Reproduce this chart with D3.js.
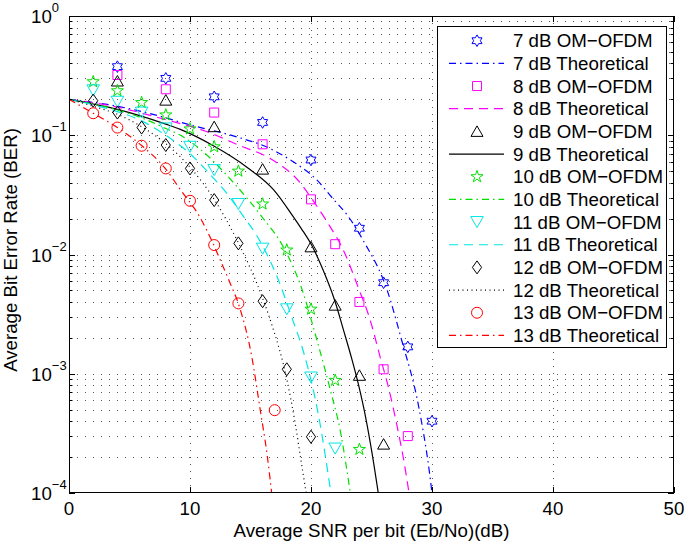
<!DOCTYPE html>
<html><head><meta charset="utf-8">
<script src="https://cdn.jsdelivr.net/npm/d3@7"></script>
<style>body{margin:0;background:#fff}svg{display:block}text{font-family:"Liberation Sans",Arial,Helvetica,sans-serif;fill:#000}</style>
</head><body><svg id="c" width="685" height="542"></svg>
<script>
// ---- data ----
const xTicks = [0, 10, 20, 30, 40, 50];
const yTickExps = [0, -1, -2, -3, -4];
const xLabel = "Average SNR per bit (Eb/No)(dB)";
const yLabel = "Average Bit Error Rate (BER)";
const legendLabels = ["7 dB OM\u2212OFDM","7 dB Theoretical","8 dB OM\u2212OFDM","8 dB Theoretical","9 dB OM\u2212OFDM","9 dB Theoretical","10 dB OM\u2212OFDM","10 dB Theoretical","11 dB OM\u2212OFDM","11 dB Theoretical","12 dB OM\u2212OFDM","12 dB Theoretical","13 dB OM\u2212OFDM","13 dB Theoretical"];

const sim7x = [4, 8, 12, 16, 20, 24, 26, 28, 30];
const sim7y = [0.376, 0.30, 0.21, 0.128, 0.062, 0.0166, 0.0058, 0.00168, 0.0004];
const sim8x = [4, 8, 12, 16, 20, 22, 24, 26, 28];
const sim8y = [0.32, 0.243, 0.155, 0.084, 0.029, 0.0122, 0.004, 0.00109, 0.0003];
const sim9x = [4, 8, 12, 16, 20, 22, 24, 26];
const sim9y = [0.285, 0.197, 0.118, 0.052, 0.0116, 0.00376, 0.00097, 0.000257];
const sim10x = [2, 4, 6, 8, 10, 12, 14, 16, 18, 20, 22, 24];
const sim10y = [0.281, 0.236, 0.188, 0.148, 0.113, 0.080, 0.050, 0.0265, 0.0109, 0.00348, 0.00088, 0.000232];
const sim11x = [2, 4, 6, 8, 10, 12, 14, 16, 18, 20, 22];
const sim11y = [0.238, 0.191, 0.155, 0.114, 0.080, 0.051, 0.0265, 0.0112, 0.00347, 0.00093, 0.000236];
const sim12x = [2, 4, 6, 8, 10, 12, 14, 16, 18, 20];
const sim12y = [0.195, 0.155, 0.116, 0.0828, 0.0527, 0.0286, 0.0124, 0.00406, 0.00109, 0.000296];
const sim13x = [2, 4, 6, 8, 10, 12, 14, 17];
const sim13y = [0.153, 0.116, 0.0817, 0.0527, 0.0282, 0.012, 0.00389, 0.000495];

const th7x = [0, 4, 8, 9.4, 14, 16.3, 18.3, 20.5, 21.8, 23.1, 24.3, 26.3, 27.5, 28.9, 29.8, 30];
const th7y = [0.2, 0.175, 0.14, 0.127, 0.096, 0.08, 0.062, 0.042, 0.0295, 0.0207, 0.0132, 0.005, 0.0019, 0.00053, 0.000146, 0.0001];
const th8x = [0, 4, 8, 11.3, 14.1, 16.6, 19.1, 20.2, 21.3, 22.8, 23.9, 24.9, 25.7, 26.5, 27.2, 27.7, 28.1];
const th8y = [0.2, 0.172, 0.135, 0.108, 0.082, 0.064, 0.04, 0.028, 0.019, 0.0102, 0.0053, 0.0028, 0.0014, 0.0007, 0.00033, 0.00018, 0.0001];
const th9x = [0, 4, 8, 9.2, 11.9, 14.7, 16.9, 18.5, 19.2, 20.05, 21, 22, 22.7, 23.4, 23.9, 24.5, 25, 25.56];
const th9y = [0.2, 0.165, 0.124, 0.112, 0.082, 0.054, 0.035, 0.021, 0.0165, 0.012, 0.0074, 0.004, 0.0023, 0.0013, 0.00083, 0.00044, 0.00023, 0.0001];
const th10x = [0, 4, 6, 8, 9.3, 10.8, 13.6, 15.9, 17.7, 19.2, 20.5, 21.6, 22.4, 23.25];
const th10y = [0.2, 0.163, 0.14, 0.114, 0.099, 0.077, 0.04, 0.021, 0.0116, 0.0053, 0.0019, 0.00073, 0.00034, 0.0001];
const th11x = [0, 2, 4, 6, 8, 10, 12, 13, 14.4, 15.5, 16.2, 17.2, 18.5, 19.4, 20.6, 21.65];
const th11y = [0.2, 0.18, 0.158, 0.132, 0.1, 0.07, 0.043, 0.033, 0.021, 0.0145, 0.0108, 0.0065, 0.0028, 0.0015, 0.00046, 0.0001];
const th12x = [0, 2, 4, 6, 8, 10, 12, 14, 16, 16.75, 18, 18.7, 19.2, 19.6];
const th12y = [0.2, 0.175, 0.15, 0.118, 0.085, 0.054, 0.029, 0.0125, 0.0043, 0.0026, 0.0009, 0.00038, 0.00018, 0.0001];
const th13x = [0, 2, 4, 6, 8, 9.2, 10.8, 11.9, 12.5, 13.3, 14.1, 15.1, 15.8, 16.4, 16.75];
const th13y = [0.2, 0.153, 0.116, 0.082, 0.052, 0.035, 0.0207, 0.0124, 0.009, 0.0058, 0.0036, 0.0014, 0.0005, 0.0002, 0.0001];

// ---- styling ----
const series = [
  {sx: sim7x, sy: sim7y, tx: th7x, ty: th7y, color: "#0000ff", marker: "hexagram", dash: "7,4,1.5,4"},
  {sx: sim8x, sy: sim8y, tx: th8x, ty: th8y, color: "#ff00ff", marker: "square", dash: "9,6"},
  {sx: sim9x, sy: sim9y, tx: th9x, ty: th9y, color: "#000000", marker: "triUp", dash: null},
  {sx: sim10x, sy: sim10y, tx: th10x, ty: th10y, color: "#00e000", marker: "pentagram", dash: "7,4,1.5,4"},
  {sx: sim11x, sy: sim11y, tx: th11x, ty: th11y, color: "#00e6e6", marker: "triDown", dash: "9,6"},
  {sx: sim12x, sy: sim12y, tx: th12x, ty: th12y, color: "#000000", marker: "diamond", dash: "1,3.5"},
  {sx: sim13x, sy: sim13y, tx: th13x, ty: th13y, color: "#ff0000", marker: "circle", dash: "7,4,1.5,4"}
];

const FS = 18.7;
const L = 69, R = 674, T = 16, B = 493;
const svg = d3.select("#c");
const x = d3.scaleLinear().domain([0, 50]).range([L, R]);
const y = d3.scaleLog().domain([1e-4, 1]).range([B, T]);

function markerPath(type) {
  const p = d3.path();
  if (type === "circle") { p.moveTo(5.5, 0); p.arc(0, 0, 5.5, 0, 2 * Math.PI); }
  else if (type === "square") { p.rect(-4.5, -4.5, 9, 9); }
  else if (type === "triUp") { p.moveTo(0, -5.5); p.lineTo(6, 5); p.lineTo(-6, 5); p.closePath(); }
  else if (type === "triDown") { p.moveTo(0, 5.5); p.lineTo(6.3, -5.5); p.lineTo(-6.3, -5.5); p.closePath(); }
  else if (type === "diamond") { p.moveTo(0, -6.5); p.lineTo(4.6, 0); p.lineTo(0, 6.5); p.lineTo(-4.6, 0); p.closePath(); }
  else if (type === "pentagram" || type === "hexagram") {
    const n = type === "pentagram" ? 5 : 6;
    const Ro = type === "pentagram" ? 6.3 : 5.8;
    const Ri = type === "pentagram" ? Ro * 0.40 : Ro * 0.577;
    for (let i = 0; i < 2 * n; i++) {
      const a = -Math.PI / 2 + i * Math.PI / n;
      const r = i % 2 ? Ri : Ro;
      if (i === 0) p.moveTo(r * Math.cos(a), r * Math.sin(a)); else p.lineTo(r * Math.cos(a), r * Math.sin(a));
    }
    p.closePath();
  }
  return p.toString();
}

// grid
const grid = svg.append("g").attr("stroke", "#333").attr("stroke-width", 1).attr("stroke-dasharray", "1,7").attr("opacity", 0.8);
y.ticks().forEach(v => {
  const yy = Math.round(y(v)) + 0.5;
  if (yy > T + 1 && yy < B - 1) grid.append("line").attr("x1", L).attr("x2", R).attr("y1", yy).attr("y2", yy);
});
xTicks.slice(1, -1).forEach(v => {
  const xx = Math.round(x(v)) + 0.5;
  grid.append("line").attr("x1", xx).attr("x2", xx).attr("y1", T).attr("y2", B).attr("stroke-dasharray", "1,6");
});

// clip
svg.append("clipPath").attr("id", "clip").append("rect").attr("x", L).attr("y", T).attr("width", R - L).attr("height", B - T);
const plot = svg.append("g").attr("clip-path", "url(#clip)");
const line = d3.line().x(d => x(d[0])).y(d => y(d[1])).curve(d3.curveMonotoneX);

series.forEach(s => {
  const pts = s.sx.map((v, i) => [v, s.sy[i]]);
  plot.append("g").selectAll("path").data(pts).join("path")
    .attr("d", markerPath(s.marker))
    .attr("transform", d => `translate(${x(d[0])},${y(d[1])})`)
    .attr("fill", "none").attr("stroke", s.color).attr("stroke-width", 1);
  const tp = s.tx.map((v, i) => [v, s.ty[i]]);
  plot.append("path").datum(tp).attr("d", line).attr("fill", "none")
    .attr("stroke", s.color).attr("stroke-width", 1.2)
    .attr("stroke-dasharray", s.dash);
});

// axes box
svg.append("rect").attr("x", L + 0.5).attr("y", T + 0.5).attr("width", R - L - 1).attr("height", B - T - 1)
  .attr("fill", "none").attr("stroke", "#000").attr("stroke-width", 1);

// ticks
const tk = svg.append("g").attr("stroke", "#000").attr("stroke-width", 1);
xTicks.forEach(v => {
  const xx = Math.round(x(v)) + 0.5;
  tk.append("line").attr("x1", xx).attr("x2", xx).attr("y1", B).attr("y2", B - 6);
  tk.append("line").attr("x1", xx).attr("x2", xx).attr("y1", T).attr("y2", T + 6);
});
y.ticks().forEach(v => {
  const yy = Math.round(y(v)) + 0.5;
  const major = Math.abs(Math.log10(v) - Math.round(Math.log10(v))) < 1e-9;
  const len = major ? 6 : 3.5;
  tk.append("line").attr("x1", L).attr("x2", L + len).attr("y1", yy).attr("y2", yy);
  tk.append("line").attr("x1", R).attr("x2", R - len).attr("y1", yy).attr("y2", yy);
});

// tick labels
svg.append("g").selectAll("text").data(xTicks).join("text")
  .attr("x", d => x(d)).attr("y", 515).attr("text-anchor", "middle").attr("font-size", FS).text(d => d);
const yl = svg.append("g").selectAll("text").data(yTickExps).join("text")
  .attr("x", 31).attr("y", d => y(Math.pow(10, d)) + 7).attr("font-size", FS);
yl.append("tspan").text("10");
yl.append("tspan").attr("dy", -11).attr("font-size", 13).text(d => d === 0 ? "0" : "\u2212" + Math.abs(d));

// axis labels
svg.append("text").attr("x", (L + R) / 2).attr("y", 537).attr("text-anchor", "middle").attr("font-size", FS).text(xLabel);
svg.append("text").attr("transform", `translate(17,250) rotate(-90)`).attr("text-anchor", "middle").attr("font-size", FS).text(yLabel);

// legend
const lg = svg.append("g");
lg.append("rect").attr("x", 437.5).attr("y", 26.5).attr("width", 229).attr("height", 321)
  .attr("fill", "#fff").attr("stroke", "#000").attr("stroke-width", 1);
legendLabels.forEach((lab, i) => {
  const cy = 40.7 + i * 22.67;
  const s = series[Math.floor(i / 2)];
  if (i % 2 === 0) {
    lg.append("path").attr("d", markerPath(s.marker)).attr("transform", `translate(477,${cy})`)
      .attr("fill", "none").attr("stroke", s.color).attr("stroke-width", 1);
  } else {
    lg.append("line").attr("x1", 449).attr("x2", 504).attr("y1", cy).attr("y2", cy)
      .attr("stroke", s.color).attr("stroke-width", 1.2).attr("stroke-dasharray", s.dash);
  }
  lg.append("text").attr("x", 513).attr("y", cy + 6.5).attr("font-size", FS).text(lab);
});
</script></body></html>
